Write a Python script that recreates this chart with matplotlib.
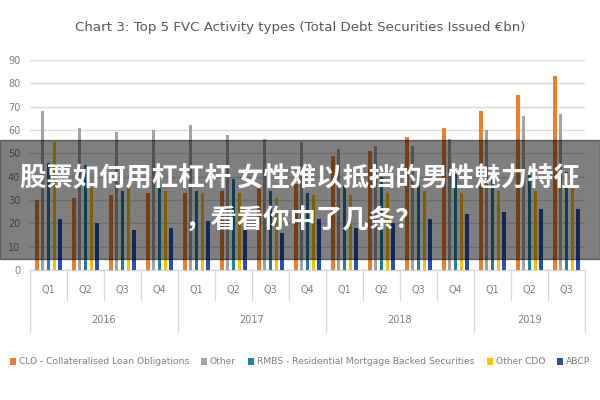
import matplotlib
matplotlib.use("Agg")
import matplotlib.pyplot as plt
import matplotlib.transforms as mtransforms
import numpy as np

years = ["2016", "2016", "2016", "2016", "2017", "2017", "2017", "2017",
         "2018", "2018", "2018", "2018", "2019", "2019", "2019"]
quarters = ["Q1", "Q2", "Q3", "Q4", "Q1", "Q2", "Q3", "Q4",
            "Q1", "Q2", "Q3", "Q4", "Q1", "Q2", "Q3"]

series_names = ["CLO - Collateralised Loan Obligations", "Other",
                "RMBS - Residential Mortgage Backed Securities", "Other CDO", "ABCP"]
clo = [30, 31, 32, 33, 33, 34, 35, 37, 49, 51, 57, 61, 68, 75, 83]
other = [68, 61, 59, 60, 62, 58, 56, 55, 52, 53, 53, 56, 60, 66, 67]
rmbs = [46, 45, 34, 35, 34, 39, 34, 33, 36, 40, 41, 41, 39, 41, 42]
other_cdo = [55, 35, 36, 34, 33, 33, 31, 32, 32, 33, 34, 33, 34, 34, 35]
abcp = [22, 20, 17, 18, 21, 19, 16, 22, 18, 20, 22, 24, 25, 26, 26]

colors = ["#EE7D2C", "#A3A3A3", "#1E82A6", "#FFC000", "#2550B5"]
title = "Chart 3: Top 5 FVC Activity types (Total Debt Securities Issued €bn)"
overlay_lines = ["股票如何用杠杠杆 女性难以抵挡的男性魅力特征", "，看看你中了几条？"]

fig = plt.figure(figsize=(6, 4), dpi=100)
ax = fig.add_axes([0.05, 0.325, 0.925, 0.525])

data = [clo, other, rmbs, other_cdo, abcp]
x = np.arange(len(quarters))
spacing = 0.157
width = 0.095
for k, (vals, c, name) in enumerate(zip(data, colors, series_names)):
    ax.bar(x + (k - 2) * spacing, vals, width=width, color=c, label=name, zorder=3)

ax.set_xlim(-0.5, len(quarters) - 0.5)
ax.set_ylim(0, 90)
ax.set_yticks(np.arange(0, 91, 10))
ax.yaxis.grid(True, color="#DADADA", linewidth=1.0, zorder=0)
ax.set_axisbelow(True)
for s in ax.spines.values():
    s.set_visible(False)
ax.tick_params(axis="y", length=0, labelsize=7, labelcolor="#7F7F7F", pad=7)
ax.set_xticks([])

trans = mtransforms.blended_transform_factory(ax.transData, ax.transAxes)
line_c = "#D9D9D9"
for i, q in enumerate(quarters):
    ax.text(i, -0.095, q, transform=trans, ha="center", va="center",
            fontsize=7, color="#7F7F7F")
for i in range(1, len(quarters)):
    if years[i] != years[i - 1]:
        ax.plot([i - 0.5, i - 0.5], [0, -0.295], transform=trans, color=line_c,
                lw=0.9, clip_on=False)
    else:
        ax.plot([i - 0.5, i - 0.5], [0, -0.143], transform=trans, color=line_c,
                lw=0.9, clip_on=False)
for xe in (-0.5, len(quarters) - 0.5):
    ax.plot([xe, xe], [0, -0.295], transform=trans, color=line_c, lw=0.9, clip_on=False)
uniq = []
for y in years:
    if y not in uniq:
        uniq.append(y)
for y in uniq:
    idx = [i for i, yy in enumerate(years) if yy == y]
    ax.text(np.mean(idx), -0.238, y, transform=trans, ha="center", va="center",
            fontsize=7, color="#7F7F7F")
ax.plot([-0.5, len(quarters) - 0.5], [0, 0], transform=trans, color=line_c, lw=0.9,
        clip_on=False)

fig.text(0.5, 0.932, title, ha="center", va="center", fontsize=9.6, color="#595959")

leg = fig.legend(loc="center", bbox_to_anchor=(0.5, 0.095), ncol=5, frameon=False,
                 handlelength=0.7, handleheight=0.7, handletextpad=0.3,
                 columnspacing=1.3, labelcolor="#7F7F7F", prop={"size": 6.6})

band = plt.Rectangle((0, 1 - 259 / 400), 1, 119 / 400, transform=fig.transFigure,
                     color="black", alpha=0.5, zorder=10)
fig.patches.append(band)
fig.text(0.5, 1 - 179 / 400, overlay_lines[0], ha="center", va="center", color="white",
         fontsize=19, fontweight="bold", zorder=11,
         family=["Noto Sans CJK SC", "DejaVu Sans"])
fig.text(0.505, 1 - 221 / 400, overlay_lines[1], ha="center", va="center", color="white",
         fontsize=19, fontweight="bold", zorder=11,
         family=["Noto Sans CJK SC", "DejaVu Sans"])

fig.savefig("out.png", dpi=100)
